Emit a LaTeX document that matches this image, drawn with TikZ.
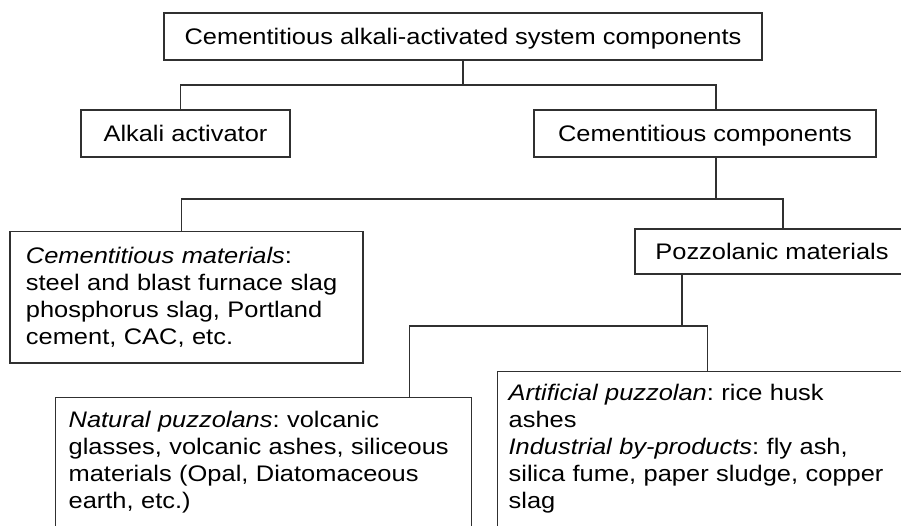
\documentclass[tikz,border=0pt]{standalone}
\usepackage{fontspec}
\setmainfont[FakeStretch=1.13]{Liberation Sans}
\definecolor{ln}{HTML}{303030}
\tikzset{
  cbox/.style={rectangle, draw=ln, line width=1.3pt, inner sep=0pt, text=black,
    font=\fontsize{22.5}{26.8}\selectfont\frenchspacing},
  hbox/.style={cbox, text height=16pt, text depth=0pt, minimum height=47pt},
  tbox/.style={cbox, anchor=north west, align=left, inner ysep=15pt},
  link/.style={draw=ln, line width=1.3pt},
}

\begin{document}
\begin{tikzpicture}[x=1pt, y=-1pt]
  \useasboundingbox (0,0) rectangle (901,525);
  \clip (0,0) rectangle (901,525);
  % first level
  \node[hbox, minimum width=598pt] (top) at (463,36.5) {Cementitious alkali-activated system components};
  \node[hbox, minimum width=209pt] (alk) at (185.5,133.5) {Alkali activator};
  \node[hbox, minimum width=342pt] (comp) at (705,133.5) {Cementitious components};
  % second level
  \node[tbox, text width=321pt, inner xsep=16pt, inner ysep=16pt] (cmat) at (9.3,230.7)
    {{\itshape Cementitious materials}:\\steel and blast furnace slag\\phosphorus slag, Portland\\cement, CAC, etc.};
  \node[hbox, minimum width=274pt, minimum height=45pt] (pozz) at (772,251.5) {Pozzolanic materials};
  % third level
  \node[tbox, text width=390pt, inner xsep=13pt, inner ysep=14pt] (nat) at (55,397)
    {{\itshape Natural puzzolans}: volcanic\\glasses, volcanic ashes, siliceous\\materials (Opal, Diatomaceous\\earth, etc.)\\\strut};
  \node[tbox, text width=391pt, inner xsep=11pt, inner ysep=13pt] (art) at (497,371)
    {{\itshape Artificial puzzolan}: rice husk\\ashes\\{\itshape Industrial by-products}: fly ash,\\silica fume, paper sludge, copper\\slag\\\strut};
  % connectors
  \coordinate (b1) at (463,85);
  \coordinate (b2) at (716,199);
  \coordinate (b3) at (682,326);
  \draw[link] (top.south) -- (b1);
  \draw[link] ([xshift=-5pt]alk.north) |- (b1) -| ([xshift=11pt]comp.north);
  \draw[link] ([xshift=11pt]comp.south) -- (b2);
  \draw[link] ([xshift=-5pt]cmat.north) |- (b2) -| ([xshift=11pt]pozz.north);
  \draw[link] ([xshift=-90pt]pozz.south) -- (b3);
  \draw[link] ([xshift=146pt]nat.north) |- (b3) -| ([xshift=3.5pt]art.north);
\end{tikzpicture}
\end{document}
